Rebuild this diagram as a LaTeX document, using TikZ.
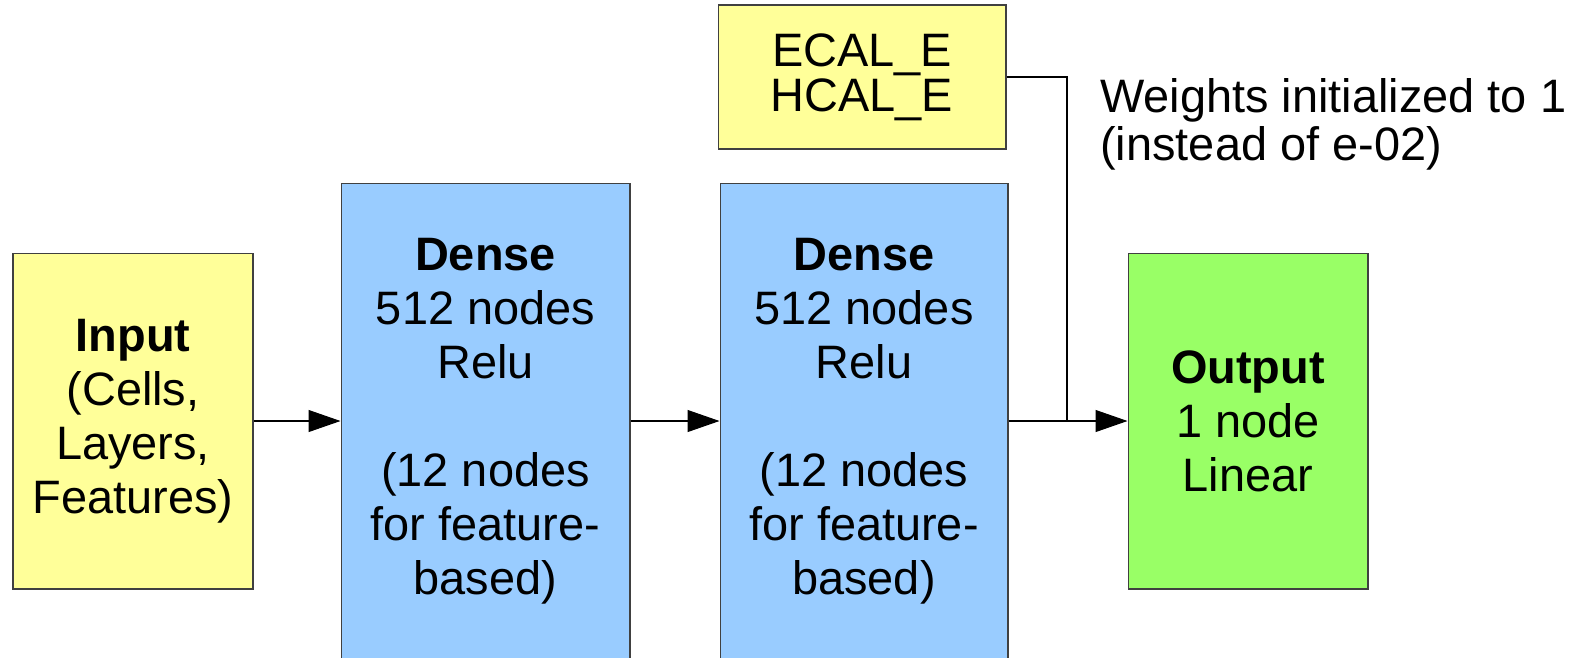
\documentclass[tikz,border=0pt]{standalone}
\usepackage{fontspec}
\setmainfont{Liberation Sans}
\usetikzlibrary{arrows.meta}

\definecolor{boxyellow}{HTML}{FFFF99}
\definecolor{boxblue}{HTML}{99CCFF}
\definecolor{boxgreen}{HTML}{99FF66}
\definecolor{edgegray}{HTML}{404040}

\tikzset{
	layer/.style={draw=edgegray, line width=0.6pt, align=center, inner sep=0pt,
		font=\fontsize{26.7}{30.7}\selectfont},
	flow/.style={line width=0.6pt, -{Triangle[length=0.64cm,width=0.44cm]}},
}

\begin{document}
\begin{tikzpicture}[x=0.02cm, y=-0.02cm]
		\useasboundingbox (0,0) rectangle (1581,657);
		% layers
		\node[layer, fill=boxyellow, minimum width=4.8cm, minimum height=6.72cm] (inp) at (133,421) {\textbf{Input}\\(Cells,\\Layers,\\Features)};
		\node[layer, fill=boxblue, minimum width=5.78cm, minimum height=9.52cm] (dense1) at (485.5,421) {\textbf{Dense}\\512 nodes\\Relu\\~\\(12 nodes\\for feature-\\based)};
		\node[layer, fill=boxblue, minimum width=5.76cm, minimum height=9.52cm] (dense2) at (864,421) {\textbf{Dense}\\512 nodes\\Relu\\~\\(12 nodes\\for feature-\\based)};
		\node[layer, fill=boxgreen, minimum width=4.8cm, minimum height=6.72cm] (out) at (1248,421) {\textbf{Output}\\1 node\\Linear};
		\node[layer, fill=boxyellow, minimum width=5.76cm, minimum height=2.88cm, font=\fontsize{26.7}{25.6}\selectfont] (calo) at (862,77) {ECAL\_E\\HCAL\_E};
		\node[align=left, anchor=base west, inner sep=0pt, font=\fontsize{26.7}{27.3}\selectfont] (note) at (1100,160) {Weights initialized to 1\\(instead of e-02)};
		% connections
		\coordinate (merge) at (1067,421);
		\draw[flow] (inp) -- (dense1);
		\draw[flow] (dense1) -- (dense2);
		\draw[flow] (dense2) -- (out);
		\draw[line width=0.6pt] (calo.east) -| (merge);
\end{tikzpicture}
\end{document}
